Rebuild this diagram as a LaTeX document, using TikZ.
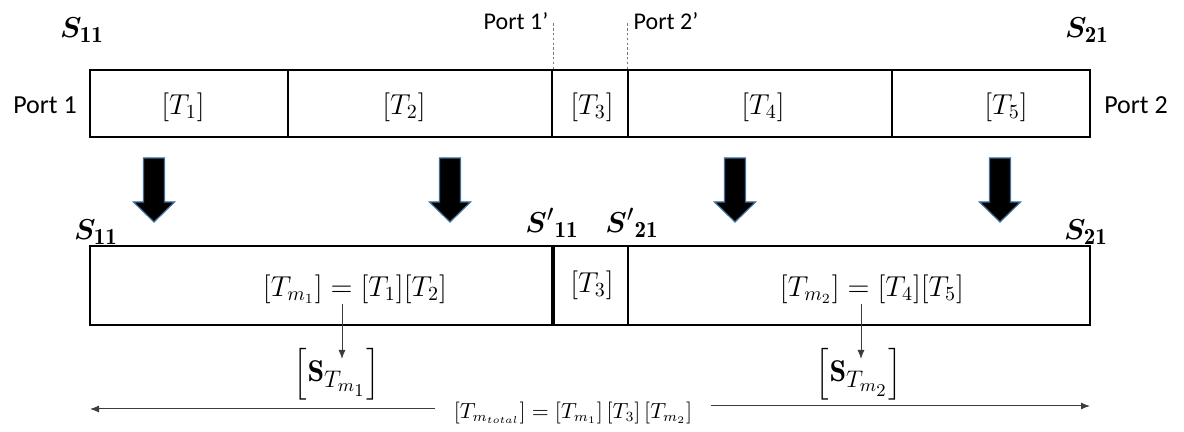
\documentclass[tikz,border=0pt]{standalone}
\usepackage{amsmath}
\usepackage{bm}
\usepackage{fontspec}
\usetikzlibrary{arrows.meta}
\newfontfamily\portfont{Carlito}
\definecolor{arrowedge}{RGB}{65,113,156}
\definecolor{guide}{RGB}{120,120,120}
\definecolor{flow}{RGB}{60,60,60}
% larger subscripts for the port labels
\DeclareMathSizes{15}{15}{11.5}{9}

\begin{document}
\begin{tikzpicture}[x=0.5pt,y=-0.5pt,
  cell/.style={draw, line width=1pt, inner sep=0pt, minimum height=33.5pt},
  wcell/.style={draw, line width=1pt, inner sep=0pt, minimum height=39.5pt},
  tlabel/.style={inner sep=0pt, font=\fontsize{14}{16}\selectfont},
  flabel/.style={inner sep=0pt, font=\fontsize{14.5}{16}\selectfont},
  slabel/.style={inner sep=0pt, font=\fontsize{15}{17}\selectfont},
  smlabel/.style={inner sep=0pt, font=\fontsize{15}{17}\selectfont},
  portlabel/.style={inner sep=0pt, font=\portfont\fontsize{13}{15}\selectfont},
  primelabel/.style={inner sep=0pt, font=\portfont\fontsize{12}{14}\selectfont},
  blockarrow/.style={fill=black, draw=arrowedge, line width=0.6pt, line join=miter},
  thinarrow/.style={draw=flow, line width=0.5pt, -{Latex[length=4.5pt,width=3.5pt]}},
  guideline/.style={draw=guide, line width=0.4pt, dash pattern=on 1.2pt off 1.2pt}]

\useasboundingbox (0,0) rectangle (1184,432);

% ---- upper chain of blocks ----
\node[cell, minimum width=99pt]  (c1) at (189,103.5) {};
\node[cell, minimum width=132pt] (c2) at (420,103.5) {};
\node[cell, minimum width=38pt]  (c3) at (590,103.5) {};
\node[cell, minimum width=132pt] (c4) at (760,103.5) {};
\node[cell, minimum width=99pt]  (c5) at (991,103.5) {};

\node[tlabel] (t1) at (183,107) {$[T_1]$};
\node[tlabel] (t2) at (404,107) {$[T_2]$};
\node[tlabel] (t3) at (592,107) {$[T_3]$};
\node[tlabel] (t4) at (763,107) {$[T_4]$};
\node[tlabel] (t5) at (1006,107) {$[T_5]$};

\node[portlabel] (p1) at (45,105) {Port 1};
\node[portlabel] (p2) at (1136,105) {Port 2};

\node[slabel] (s11a) at (82,30) {$\bm{S}_{\mathbf{11}}$};
\node[slabel] (s21a) at (1087,30) {$\bm{S}_{\mathbf{21}}$};

% internal reference planes
\node[primelabel] (pp1) at (516,21) {Port 1’};
\node[primelabel] (pp2) at (666,21) {Port 2’};
\draw[guideline] (c2.north east) -- ++(0,-47);
\draw[guideline] (c4.north west) -- ++(0,-48);

% ---- block arrows ----
\foreach \x in {154,450,735,1000}
  \filldraw[blockarrow] (\x-10.5,158) -- (\x+10.5,158) -- (\x+10.5,202) -- (\x+20.5,202)
    -- (\x,222) -- (\x-20.5,202) -- (\x-10.5,202) -- cycle;

% ---- merged chain ----
\node[wcell, minimum width=231pt] (m1) at (321,285.5) {};
\node[wcell, minimum width=38pt]  (m3) at (590,285.5) {};
\node[wcell, minimum width=231pt] (m2) at (859,285.5) {};
\draw[line width=1.6pt] (m1.north east) -- (m1.south east);

\node[flabel] (f1) at (355,289) {$\left[T_{m_1}\right]=[T_1][T_2]$};
\node[tlabel] (f3) at (592,285) {$[T_3]$};
\node[flabel] (f2) at (872,289) {$\left[T_{m_2}\right]=[T_4][T_5]$};

\node[slabel] (s11b) at (96,232) {$\bm{S}_{\mathbf{11}}$};
\node[slabel] (s11p) at (552,223) {${\bm{S}'}_{\mathbf{11}}$};
\node[slabel] (s21p) at (632,223) {${\bm{S}'}_{\mathbf{21}}$};
\node[slabel] (s21b) at (1086,232) {$\bm{S}_{\mathbf{21}}$};

% ---- scattering parameters of merged blocks ----
\node[smlabel] (sm1) at (337,374) {$\Big[\mathbf{S}_{T_{m_1}}\Big]$};
\node[smlabel] (sm2) at (859,374) {$\Big[\mathbf{S}_{T_{m_2}}\Big]$};
\coordinate (tip1) at (342,359);
\coordinate (tip2) at (861,359);
\draw[thinarrow] (f1.south -| tip1) -- (tip1);
\draw[thinarrow] (f2.south -| tip2) -- (tip2);

% ---- total transfer matrix ----
\node[inner sep=0pt, inner xsep=9pt, font=\fontsize{10.5}{12}\selectfont] (tot) at (573,413)
  {$\left[T_{m_{total}}\right]=\left[T_{m_1}\right][T_3]\left[T_{m_2}\right]$};
\coordinate (leftend) at (90,409);
\coordinate (rightend) at (1090,406);
\draw[thinarrow] (tot.west |- leftend) -- (leftend);
\draw[thinarrow] (tot.east |- rightend) -- (rightend);

\end{tikzpicture}
\end{document}
